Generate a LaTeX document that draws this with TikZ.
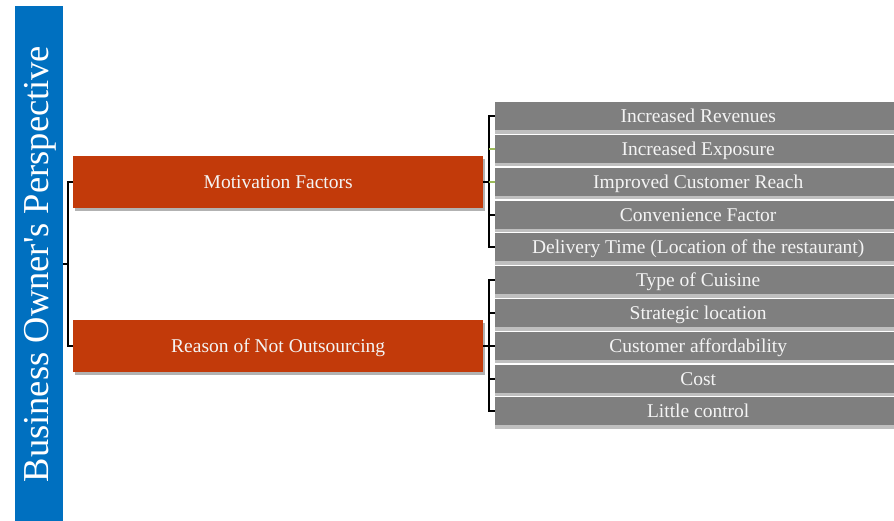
\documentclass[tikz,border=0pt]{standalone}
\usepackage{fontspec}
\setmainfont{Liberation Serif}
\usetikzlibrary{shadows}
\definecolor{barblue}{HTML}{0070C0}
\definecolor{headred}{HTML}{C23A0A}
\definecolor{itemgray}{HTML}{7F7F7F}
\definecolor{stubgreen}{HTML}{9BBB59}
\definecolor{labelwhite}{HTML}{F4F4F4}
\tikzset{
  titlebar/.style={fill=barblue, draw=none, anchor=north west, minimum width=48pt, minimum height=515pt, inner sep=0pt},
  boxtext/.style={text=labelwhite, font=\fontsize{19.5}{22}\selectfont, inner sep=0pt,
    text height=13pt, text depth=0pt},
  headbox/.style={boxtext, fill=headred, draw=none, anchor=north west, minimum width=410pt, minimum height=52pt,
    drop shadow={shadow xshift=2pt, shadow yshift=-3pt, opacity=0.3, fill=black}},
  itembox/.style={boxtext, fill=itemgray, draw=none, anchor=north west, minimum width=406pt, minimum height=28pt,
    drop shadow={shadow xshift=0pt, shadow yshift=-3.5pt, opacity=0.25, fill=black}},
  link/.style={draw=black, line width=2pt},
  greenlink/.style={draw=stubgreen, line width=2pt}
}
\begin{document}
\begin{tikzpicture}[x=1pt, y=-1pt]
\useasboundingbox (0,0) rectangle (894,521);

% vertical title bar
\node[titlebar] (bar) at (15,6) {};
\node[rotate=90, anchor=base, text=white, font=\fontsize{36.5}{40}\selectfont] (title) at (48,264)
  {Business Owner\textquotesingle s Perspective};

% two category headers
\node[headbox] (mot) at (73,156) {Motivation Factors};
\node[headbox] (rea) at (73,320) {Reason of Not Outsourcing};

% item boxes
\foreach \i/\t in {1/Increased Revenues, 2/Increased Exposure, 3/Improved Customer Reach,
  4/Convenience Factor, 5/Delivery Time (Location of the restaurant), 6/Type of Cuisine,
  7/Strategic location, 8/Customer affordability, 9/Cost, 10/Little control}
  \node[itembox] (g\i) at (495,{102+32.8*(\i-1)}) {\t};

% bracket from the title bar to the headers
\coordinate (lj) at (68,264);
\draw[link] (63,264) -- (lj);
\draw[link] (lj) |- (mot.west);
\draw[link] (lj) |- (rea.west);

% bracket from Motivation Factors to its items
\draw[link] (mot.east) -- ++(6,0) coordinate (mj);
\draw[link] (mj) |- (g1.west);
\draw[link] (mj) |- (g5.west);
\draw[link] (mj |- g4.west) -- (g4.west);
\draw[link] (mj |- g2.west) -- (mj |- g3.west);
\draw[greenlink] (mj |- g2.west) -- (g2.west);
\draw[greenlink] (mj |- g3.west) -- (g3.west);

% bracket from Reason of Not Outsourcing to its items
\draw[link] (rea.east) -- ++(6,0) coordinate (rj);
\draw[link] (rj) |- (g6.west);
\draw[link] (rj) |- (g10.west);
\foreach \k in {7,8,9}
  \draw[link] (rj |- g\k.west) -- (g\k.west);
\end{tikzpicture}
\end{document}
